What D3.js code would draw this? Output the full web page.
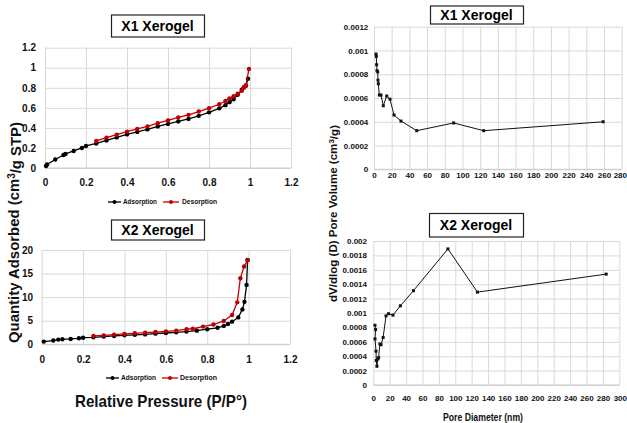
<!DOCTYPE html>
<html><head><meta charset="utf-8">
<script src="https://cdn.jsdelivr.net/npm/d3@7"></script>
<style>body{margin:0;background:#fff}svg{display:block}</style>
</head><body><svg id="c" width="627" height="423"></svg>
<script>
// ---------- data ----------
const pressureTicks = [0, 0.2, 0.4, 0.6, 0.8, 1, 1.2];
const x1QTicks = [0, 0.2, 0.4, 0.6, 0.8, 1, 1.2];
const x2QTicks = [0, 5, 10, 15, 20];
const x1PoreXTicks = [0,20,40,60,80,100,120,140,160,180,200,220,240,260,280];
const x1PoreYTicks = [0, 0.0002, 0.0004, 0.0006, 0.0008, 0.001, 0.0012];
const x2PoreXTicks = [0,20,40,60,80,100,120,140,160,180,200,220,240,260,280,300];
const x2PoreYTicks = [0, 0.0002, 0.0004, 0.0006, 0.0008, 0.001, 0.0012, 0.0014, 0.0016, 0.0018, 0.002];

const x1AdsP = [0.005, 0.01, 0.05, 0.09, 0.1, 0.14, 0.18, 0.2, 0.25, 0.3, 0.35, 0.4, 0.45, 0.5, 0.55, 0.6, 0.65, 0.7, 0.75, 0.8, 0.85, 0.88, 0.9, 0.92, 0.94, 0.96, 0.97, 0.98, 0.99];
const x1AdsQ = [0.02, 0.035, 0.085, 0.13, 0.14, 0.17, 0.2, 0.22, 0.245, 0.275, 0.305, 0.335, 0.36, 0.385, 0.415, 0.44, 0.465, 0.49, 0.52, 0.555, 0.595, 0.627, 0.657, 0.686, 0.73, 0.78, 0.805, 0.82, 0.89];
const x1DesP = [0.25, 0.3, 0.35, 0.4, 0.45, 0.5, 0.55, 0.6, 0.65, 0.7, 0.75, 0.8, 0.85, 0.88, 0.9, 0.92, 0.94, 0.96, 0.97, 0.98, 0.995];
const x1DesQ = [0.27, 0.303, 0.332, 0.363, 0.39, 0.415, 0.447, 0.474, 0.504, 0.53, 0.563, 0.597, 0.636, 0.668, 0.695, 0.715, 0.74, 0.77, 0.8, 0.825, 0.988];

const x2AdsP = [0.01, 0.056, 0.08, 0.1, 0.14, 0.18, 0.2, 0.25, 0.3, 0.35, 0.4, 0.45, 0.5, 0.55, 0.6, 0.65, 0.7, 0.75, 0.8, 0.85, 0.88, 0.9, 0.92, 0.95, 0.97, 0.98, 0.99, 0.995];
const x2AdsQ = [0.57, 0.8, 1.0, 1.06, 1.13, 1.27, 1.4, 1.48, 1.63, 1.77, 1.9, 2.0, 2.1, 2.26, 2.4, 2.54, 2.7, 2.9, 3.2, 3.5, 3.9, 4.3, 4.8, 5.7, 7.4, 9.0, 12.6, 17.9];
const x2DesP = [0.25, 0.3, 0.35, 0.4, 0.45, 0.5, 0.55, 0.6, 0.65, 0.7, 0.73, 0.78, 0.83, 0.88, 0.92, 0.945, 0.96, 0.978, 0.995];
const x2DesQ = [1.77, 1.9, 2.05, 2.2, 2.33, 2.47, 2.6, 2.75, 2.9, 3.2, 3.3, 3.75, 4.2, 4.95, 6.2, 8.9, 14.0, 16.5, 17.8];

const x1PoreD = [2.3, 2.6, 3.0, 3.4, 4.2, 4.5, 4.9, 6.0, 7.9, 10.5, 14.4, 18.1, 22.6, 30.5, 48.3, 90, 124, 259];
const x1PoreV = [0.00097, 0.00095, 0.00088, 0.00083, 0.00082, 0.00075, 0.00072, 0.000625, 0.000625, 0.000535, 0.000617, 0.00059, 0.000457, 0.000406, 0.000325, 0.00039, 0.000325, 0.0004];
const x2PoreD = [2.0, 2.8, 2.1, 3.3, 3.6, 4.4, 5.5, 6.5, 8.0, 9.5, 12.0, 15.5, 18.5, 24, 33, 49, 91, 127, 284];
const x2PoreV = [0.00083, 0.00077, 0.00064, 0.00047, 0.00034, 0.00026, 0.00036, 0.00038, 0.00057, 0.00056, 0.00066, 0.00096, 0.00099, 0.00097, 0.0011, 0.00131, 0.00189, 0.00129, 0.00154];

// ---------- drawing ----------
const FONT = '"Liberation Sans", Arial, sans-serif';
const RED = '#c00000';
const svg = d3.select('#c');
svg.append('rect').attr('width', 627).attr('height', 423).attr('fill', '#fff');

function panel(c) {
  const x = d3.scaleLinear().domain(c.xDomain).range([c.x0, c.x1]);
  const y = d3.scaleLinear().domain(c.yDomain).range([c.y0, c.y1]);
  const g = svg.append('g');
  g.append('g').attr('transform', `translate(0,${c.y0})`)
    .call(d3.axisBottom(x).tickValues(c.xTicks).tickSize(-(c.y0 - c.y1)).tickFormat(''))
    .call(s => { s.select('.domain').remove(); s.selectAll('line').attr('stroke', '#d9d9d9'); });
  g.append('g').attr('transform', `translate(${c.x0},0)`)
    .call(d3.axisLeft(y).tickValues(c.yTicks).tickSize(-(c.x1 - c.x0)).tickFormat(''))
    .call(s => { s.select('.domain').remove(); s.selectAll('line').attr('stroke', '#d9d9d9'); });
  g.append('line').attr('x1', c.x0).attr('x2', c.x1).attr('y1', c.y0).attr('y2', c.y0).attr('stroke', '#c8c8c8');
  const xa = g.append('g').attr('transform', `translate(0,${c.y0})`)
    .call(d3.axisBottom(x).tickValues(c.xTicks).tickSize(0).tickPadding(c.xPad).tickFormat(d => String(d)))
    .call(s => { s.select('.domain').remove(); s.attr('font-size', c.fs).attr('font-family', FONT).attr('font-weight', 'bold');
                 s.selectAll('text').attr('fill', '#111'); });
  if (c.lastEnd) {
    // keep the last x label inside the picture, as in the reference
    xa.selectAll('.tick').filter((d, i, n) => i === n.length - 1).select('text')
      .attr('text-anchor', 'end').attr('x', c.lastEnd);
  }
  g.append('g').attr('transform', `translate(${c.x0},0)`)
    .call(d3.axisLeft(y).tickValues(c.yTicks).tickSize(0).tickPadding(c.yPad).tickFormat(d => String(d)))
    .call(s => { s.select('.domain').remove(); s.attr('font-size', c.fs).attr('font-family', FONT).attr('font-weight', 'bold');
                 s.selectAll('text').attr('fill', '#111'); });
  return { x, y, g };
}

function series(p, xs, ys, color, marker, size, sw) {
  const pts = xs.map((v, i) => [v, ys[i]]);
  const line = d3.line().x(d => p.x(d[0])).y(d => p.y(d[1]));
  p.g.append('path').datum(pts).attr('d', line).attr('fill', 'none').attr('stroke', color).attr('stroke-width', sw);
  if (marker === 'circle') {
    p.g.selectAll(null).data(pts).enter().append('circle')
      .attr('cx', d => p.x(d[0])).attr('cy', d => p.y(d[1])).attr('r', size).attr('fill', color);
  } else {
    p.g.selectAll(null).data(pts).enter().append('rect')
      .attr('x', d => p.x(d[0]) - size / 2).attr('y', d => p.y(d[1]) - size / 2)
      .attr('width', size).attr('height', size).attr('fill', color);
  }
}

function titleBox(x0, y0, w, h, label, fs) {
  svg.append('rect').attr('x', x0 + 0.5).attr('y', y0 + 0.5).attr('width', w).attr('height', h)
    .attr('fill', '#fff').attr('stroke', '#222').attr('stroke-width', 1.2);
  svg.append('text').attr('x', x0 + w / 2).attr('y', y0 + h / 2).attr('dy', '0.36em')
    .attr('text-anchor', 'middle').attr('font-family', FONT).attr('font-weight', 'bold')
    .attr('font-size', fs).attr('fill', '#000').text(label);
}

function legend(cy, items) {
  items.forEach(it => {
    svg.append('line').attr('x1', it.lx0).attr('x2', it.lx1).attr('y1', cy).attr('y2', cy)
      .attr('stroke', it.color).attr('stroke-width', 1.3);
    svg.append('circle').attr('cx', (it.lx0 + it.lx1) / 2).attr('cy', cy).attr('r', 2).attr('fill', it.color);
    svg.append('text').attr('x', it.tx).attr('y', cy).attr('dy', '0.35em').attr('font-family', FONT)
      .attr('font-weight', 'bold').attr('font-size', 7).attr('fill', '#111')
      .attr('textLength', it.tw).attr('lengthAdjust', 'spacingAndGlyphs').text(it.label);
  });
}

// Top-left: X1 isotherm
const p1 = panel({ xDomain: [0, 1.2], yDomain: [0, 1.2], x0: 45, x1: 291, y0: 168, y1: 47.7,
  xTicks: pressureTicks, yTicks: x1QTicks, xPad: 11, yPad: 9, fs: 10 });
series(p1, x1AdsP, x1AdsQ, '#000', 'circle', 2.2, 1.3);
series(p1, x1DesP, x1DesQ, RED, 'circle', 2.2, 1.3);
titleBox(111, 14.5, 93, 22, 'X1 Xerogel', 14);
legend(202, [
  { lx0: 108, lx1: 121, color: '#000', tx: 123, tw: 34, label: 'Adsorption' },
  { lx0: 163, lx1: 179, color: RED, tx: 182, tw: 35, label: 'Desorption' }
]);

// Bottom-left: X2 isotherm
const p2 = panel({ xDomain: [0, 1.2], yDomain: [0, 20], x0: 41.7, x1: 290, y0: 344.3, y1: 250,
  xTicks: pressureTicks, yTicks: x2QTicks, xPad: 12, yPad: 8.7, fs: 10 });
series(p2, x2AdsP, x2AdsQ, '#000', 'circle', 2.2, 1.3);
series(p2, x2DesP, x2DesQ, RED, 'circle', 2.2, 1.3);
titleBox(111, 219.5, 93, 20, 'X2 Xerogel', 14);
legend(378, [
  { lx0: 106, lx1: 119, color: '#000', tx: 121, tw: 35, label: 'Adsorption' },
  { lx0: 162, lx1: 178, color: RED, tx: 180, tw: 37, label: 'Desorption' }
]);

// Top-right: X1 pore size
const p3 = panel({ xDomain: [0, 280], yDomain: [0, 0.0012], x0: 374, x1: 621.7, y0: 169.3, y1: 26.7,
  xTicks: x1PoreXTicks, yTicks: x1PoreYTicks, xPad: 3, yPad: 5.7, fs: 8, lastEnd: 4.8 });
series(p3, x1PoreD, x1PoreV, '#111', 'square', 3, 1);
titleBox(430, 5.5, 93, 18, 'X1 Xerogel', 14);

// Bottom-right: X2 pore size
const p4 = panel({ xDomain: [0, 300], yDomain: [0, 0.002], x0: 373.3, x1: 619.3, y0: 385, y1: 241,
  xTicks: x2PoreXTicks, yTicks: x2PoreYTicks, xPad: 10, yPad: 6.3, fs: 8, lastEnd: 7.2 });
series(p4, x2PoreD, x2PoreV, '#111', 'square', 3, 1);
titleBox(429, 213, 94, 23.5, 'X2 Xerogel', 14);

// Axis titles
const leftY = svg.append('text').attr('transform', 'translate(14,232.5) rotate(-90)')
  .attr('text-anchor', 'middle').attr('dy', '0.35em').attr('font-family', FONT).attr('font-weight', 'bold')
  .attr('font-size', 15).attr('fill', '#111').attr('textLength', 221).attr('lengthAdjust', 'spacingAndGlyphs');
leftY.append('tspan').text('Quantity Adsorbed (cm');
leftY.append('tspan').attr('dy', '-0.4em').attr('font-size', 10).text('3');
leftY.append('tspan').attr('dy', '0.4em').text('/g STP)');

const rightY = svg.append('text').attr('transform', 'translate(333,213.5) rotate(-90)')
  .attr('text-anchor', 'middle').attr('dy', '0.35em').attr('font-family', FONT).attr('font-weight', 'bold')
  .attr('font-size', 11.5).attr('fill', '#111').attr('textLength', 177).attr('lengthAdjust', 'spacingAndGlyphs');
rightY.append('tspan').text('dV/dlog (D) Pore Volume (cm');
rightY.append('tspan').attr('dy', '-0.4em').attr('font-size', 8).text('3');
rightY.append('tspan').attr('dy', '0.4em').text('/g)');

svg.append('text').attr('x', 161).attr('y', 401).attr('dy', '0.36em').attr('text-anchor', 'middle')
  .attr('font-family', FONT).attr('font-weight', 'bold').attr('font-size', 17).attr('fill', '#111')
  .attr('textLength', 172).attr('lengthAdjust', 'spacingAndGlyphs').text('Relative Pressure (P/P°)');

svg.append('text').attr('x', 483).attr('y', 417).attr('dy', '0.36em').attr('text-anchor', 'middle')
  .attr('font-family', FONT).attr('font-weight', 'bold').attr('font-size', 10).attr('fill', '#111')
  .attr('textLength', 80).attr('lengthAdjust', 'spacingAndGlyphs').text('Pore Diameter (nm)');
</script></body></html>
